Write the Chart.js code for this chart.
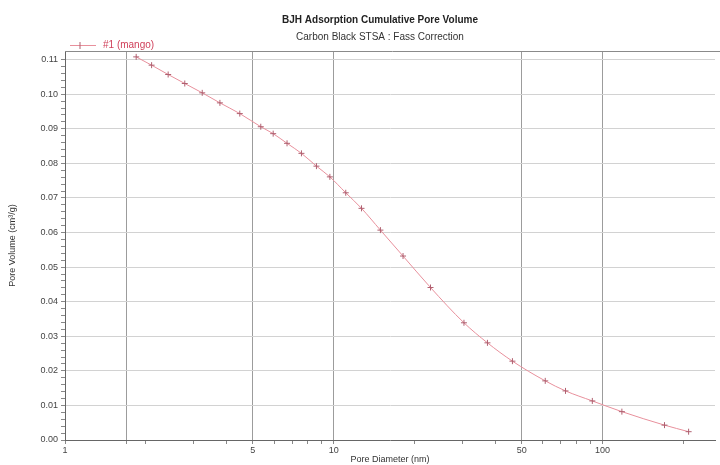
<!DOCTYPE html>
<html>
<head>
<meta charset="utf-8">
<script src="https://cdn.jsdelivr.net/npm/chart.js@4/dist/chart.umd.min.js"></script>
<style>
  body{margin:0;background:#fff;}
  #box{width:720px;height:465px;}
</style>
</head>
<body>
<div id="box"><canvas id="pore_canvas" width="720" height="465"></canvas></div>
<script>
// BJH adsorption cumulative pore volume
const poreDiameter = [1.84, 2.10, 2.42, 2.79, 3.24, 3.77, 4.47, 5.35, 5.95, 6.70, 7.58, 8.62, 9.67, 11.08,
                      12.68, 14.91, 18.1, 22.9, 30.5, 37.3, 46.2, 61.2, 72.8, 91.6, 118, 170, 209];
const poreVolume = [0.1108, 0.1084, 0.1057, 0.1031, 0.1004, 0.0975, 0.0944, 0.0906, 0.0886, 0.0858, 0.0829,
                    0.0792, 0.0761, 0.0715, 0.0670, 0.0607, 0.0532, 0.0441, 0.0339, 0.0281, 0.0228, 0.0171,
                    0.0142, 0.0113, 0.0082, 0.0043, 0.0024];

const xLabelTicks = [1, 5, 10, 50, 100];
const xGridTicks = [1.7, 5, 10, 50, 100];
const xMinorTicks = [2, 3, 4, 6, 7, 8, 9, 20, 30, 40, 60, 70, 80, 90, 200];
const yLabelTicks = [0, 0.01, 0.02, 0.03, 0.04, 0.05, 0.06, 0.07, 0.08, 0.09, 0.10, 0.11];

const seriesName = "#1 (mango)";
const titleText = "BJH Adsorption Cumulative Pore Volume";
const subtitleText = "Carbon Black STSA : Fass Correction";

const lineColor = "#e8909c";
const markColor = "#b06070";

let points = [];
for (let i = 0; i < poreDiameter.length; i++) {
    points.push({x: poreDiameter[i], y: poreVolume[i]});
}

// title, subtitle, legend and top border
const headerPlugin = {
    id: "header",
    afterDraw(chart) {
        const ctx = chart.ctx;
        const area = chart.chartArea;
        ctx.save();
        ctx.strokeStyle = "#8a8a8a";
        ctx.lineWidth = 1;
        ctx.beginPath();
        ctx.moveTo(area.left, area.top + 0.5);
        ctx.lineTo(720, area.top + 0.5);
        ctx.stroke();

        ctx.textAlign = "center";
        ctx.textBaseline = "middle";
        ctx.fillStyle = "#222";
        ctx.font = "bold 10px 'Liberation Sans', Arial, sans-serif";
        ctx.fillText(titleText, 380, 20);
        ctx.font = "10px 'Liberation Sans', Arial, sans-serif";
        ctx.fillStyle = "#333";
        ctx.fillText(subtitleText, 380, 37);

        // legend entry
        ctx.strokeStyle = lineColor;
        ctx.beginPath();
        ctx.moveTo(70, 45.5);
        ctx.lineTo(96, 45.5);
        ctx.stroke();
        ctx.strokeStyle = markColor;
        ctx.beginPath();
        ctx.moveTo(80, 42);
        ctx.lineTo(80, 49);
        ctx.stroke();
        ctx.textAlign = "left";
        ctx.fillStyle = "#d0405a";
        ctx.font = "10px 'Liberation Sans', Arial, sans-serif";
        ctx.fillText(seriesName, 103, 45);
        ctx.restore();
    }
};

const config = {
    type: "line",
    data: {
        datasets: [{
            label: seriesName,
            data: points,
            borderColor: lineColor,
            borderWidth: 1,
            pointStyle: "cross",
            pointRadius: 3,
            pointBorderColor: markColor,
            pointBorderWidth: 1,
            cubicInterpolationMode: "monotone",
            fill: false
        }]
    },
    options: {
        responsive: false,
        animation: false,
        layout: {padding: {top: 51, right: 0, left: 0, bottom: 0}},
        plugins: {
            legend: {display: false},
            title: {display: false},
            tooltip: {enabled: false}
        },
        scales: {
            x: {
                type: "logarithmic",
                min: 1,
                max: 262,
                afterBuildTicks: (scale) => {
                    let all = [1, 1.7].concat(xMinorTicks, [5, 10, 50, 100]);
                    all.sort((a, b) => a - b);
                    scale.ticks = all.map(v => ({value: v}));
                },
                afterFit: (scale) => { scale.height = 25; },
                border: {color: "#666"},
                grid: {
                    color: (c) => (xGridTicks.includes(c.tick.value) ? "#9c9c9c" : "rgba(0,0,0,0)"),
                    tickColor: "#888",
                    tickLength: 4
                },
                ticks: {
                    autoSkip: false,
                    maxRotation: 0,
                    padding: 1,
                    color: "#444",
                    font: {family: "'Liberation Sans', Arial, sans-serif", size: 9},
                    callback: (v) => (xLabelTicks.includes(v) ? String(v) : "")
                },
                title: {
                    display: true,
                    text: "Pore Diameter (nm)",
                    color: "#333",
                    padding: 0,
                    font: {family: "'Liberation Sans', Arial, sans-serif", size: 9}
                }
            },
            y: {
                min: 0,
                max: 0.1125,
                afterBuildTicks: (scale) => {
                    let t = [];
                    for (let i = 0; i <= 55; i++) t.push({value: i * 0.002});
                    scale.ticks = t;
                },
                afterFit: (scale) => { scale.width = 65; },
                border: {color: "#666"},
                grid: {
                    color: (c) => (c.index % 5 === 0 && c.index > 0 ? "#d2d2d2" : "rgba(0,0,0,0)"),
                    tickColor: "#888",
                    tickLength: 4
                },
                ticks: {
                    autoSkip: false,
                    padding: 3,
                    color: "#444",
                    font: {family: "'Liberation Sans', Arial, sans-serif", size: 9},
                    callback: function (v, i) {
                        return i % 5 === 0 ? yLabelTicks[i / 5].toFixed(2) : "";
                    }
                },
                title: {
                    display: true,
                    text: "Pore Volume (cm³/g)",
                    color: "#333",
                    padding: {top: 7, bottom: 0},
                    font: {family: "'Liberation Sans', Arial, sans-serif", size: 9}
                }
            }
        }
    },
    plugins: [headerPlugin]
};

const myChart = new Chart(document.getElementById("pore_canvas"), config);
</script>
</body>
</html>
